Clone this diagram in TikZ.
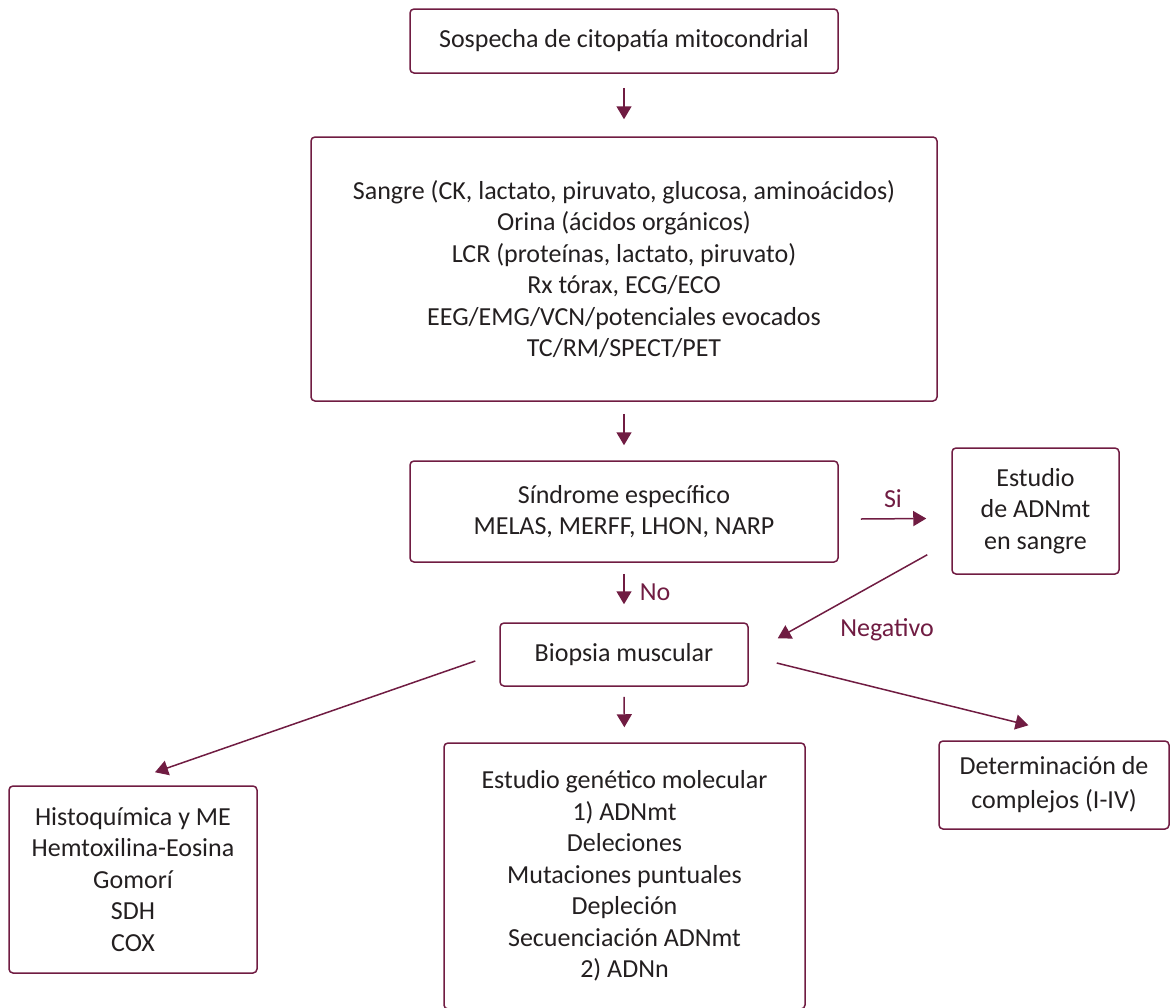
\documentclass[tikz,border=0pt]{standalone}
\usepackage{fontspec}
\setmainfont{Carlito}
\usetikzlibrary{arrows.meta}
\definecolor{granate}{RGB}{112,28,66}
\definecolor{texto}{RGB}{35,31,32}
\begin{document}
\begin{tikzpicture}[x=1pt,y=-1pt,font=\fontsize{26}{31.5}\selectfont,
    caja/.style={draw=granate,line width=1.5pt,rounded corners=4pt,align=center,inner sep=0pt,text=texto},
    flecha/.style={draw=granate,line width=1.5pt,-{Triangle[length=13pt,width=15pt]}},
    etiq/.style={text=granate,inner sep=0pt}]
      \useasboundingbox (0,0) rectangle (1170,1007);
      \node[caja,minimum width=428pt,minimum height=64pt] (sospecha) at (624,41) {Sospecha de citopatía mitocondrial};
      \node[caja,minimum width=626pt,minimum height=264pt] (pruebas) at (624,269) {Sangre (CK, lactato, piruvato, glucosa, aminoácidos)\\Orina (ácidos orgánicos)\\LCR (proteínas, lactato, piruvato)\\Rx tórax, ECG/ECO\\EEG/EMG/VCN/potenciales evocados\\TC/RM/SPECT/PET};
      \node[caja,minimum width=428pt,minimum height=101pt] (sindrome) at (624,511.5) {Síndrome específico\\MELAS, MERFF, LHON, NARP};
      \node[caja,minimum width=167pt,minimum height=126pt] (estudio) at (1035.5,511) {Estudio\\de ADNmt\\en sangre};
      \node[caja,minimum width=248pt,minimum height=63pt] (biopsia) at (624,654.5) {Biopsia muscular};
      \node[caja,minimum width=248pt,minimum height=187pt] (histo) at (133,879.5) {Histoquímica y ME\\Hemtoxilina-Eosina\\Gomorí\\SDH\\COX};
      \node[caja,minimum width=361pt,minimum height=266pt] (genetico) at (624.5,876) {Estudio genético molecular\\1) ADNmt\\Deleciones\\Mutaciones puntuales\\Depleción\\Secuenciación ADNmt\\2) ADNn};
      \node[caja,minimum width=230pt,minimum height=88pt] (complejos) at (1054,785) {Determinación de\\[2.5pt]complejos (I-IV)};
      \draw[flecha,shorten <=14pt,shorten >=17pt] (sospecha.south) -- (pruebas.north);
      \draw[flecha,shorten <=12pt,shorten >=15pt] (pruebas.south) -- (sindrome.north);
      \draw[flecha,shorten <=11pt,shorten >=18pt] (sindrome.south) -- (biopsia.north);
      \draw[flecha] ([xshift=22pt,yshift=-7.5pt]sindrome.east) -- ([xshift=-25pt,yshift=-7.5pt]estudio.west);
      \draw[flecha] ([xshift=-24pt,yshift=20pt]estudio.south west) -- ([xshift=29pt,yshift=-16pt]biopsia.north east);
      \draw[flecha] ([xshift=-24pt,yshift=-6.5pt]biopsia.west) -- ([xshift=22pt,yshift=13pt]histo.north);
      \draw[flecha,shorten <=10pt,shorten >=15pt] (biopsia.south) -- (genetico.north);
      \draw[flecha] ([xshift=28pt,yshift=-8.5pt]biopsia.east) -- ([xshift=-25.5pt,yshift=15pt]complejos.north);
      \node[etiq] (si) at (893,499) {Si};
      \node[etiq] (no) at (655,592) {No};
      \node[etiq] (negativo) at (887,630) {Negativo};
\end{tikzpicture}
\end{document}
